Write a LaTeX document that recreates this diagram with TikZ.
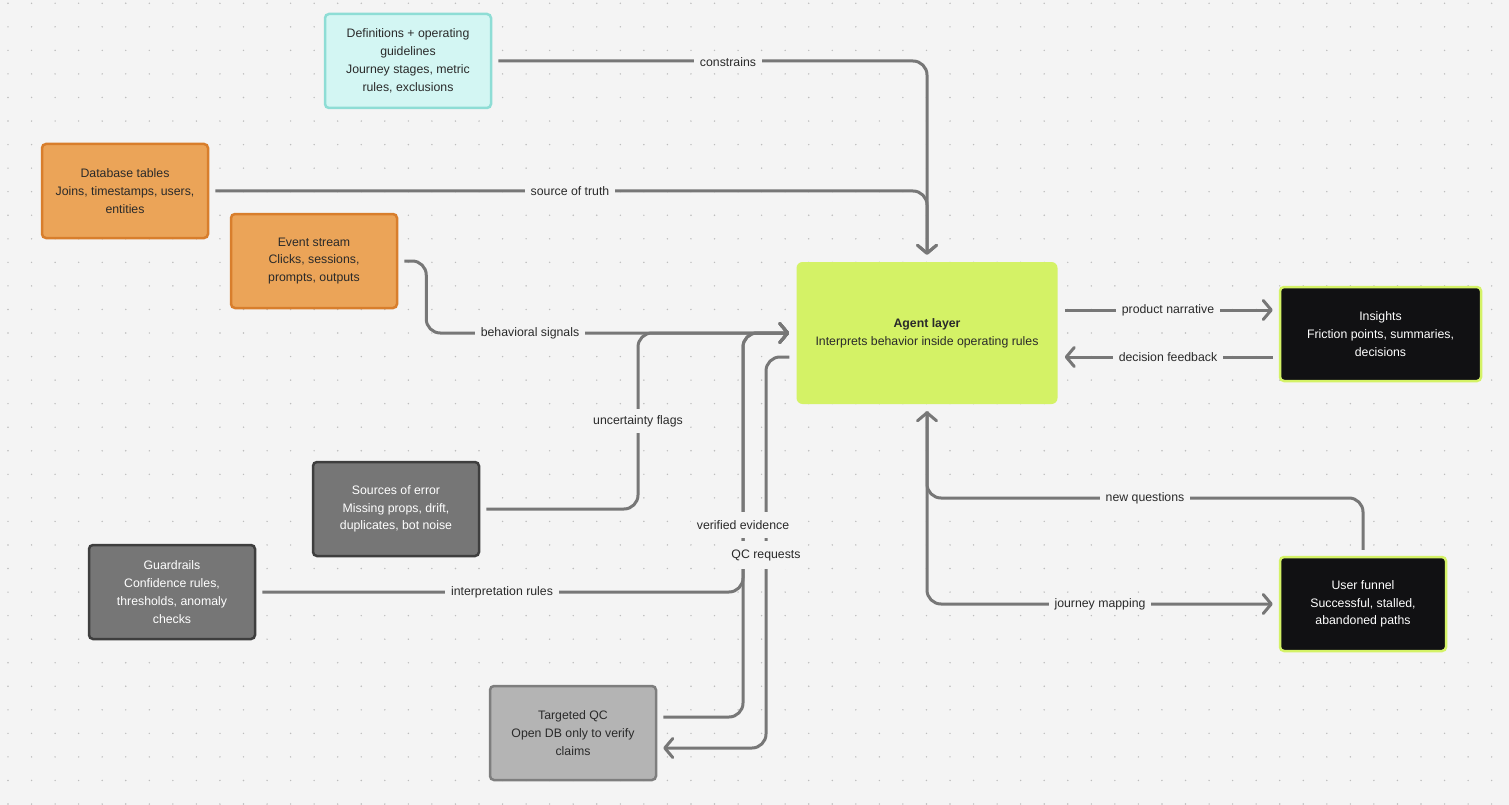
\documentclass[tikz,border=0pt]{standalone}
\usepackage{fontspec}
\setmainfont{Liberation Sans}
\usetikzlibrary{arrows.meta}
\definecolor{bg}{HTML}{F4F4F4}
\definecolor{dotc}{HTML}{BDBDBD}
\definecolor{linec}{HTML}{777777}
\definecolor{textc}{HTML}{2A2A2A}
\definecolor{cyanfill}{HTML}{D3F6F3}
\definecolor{cyanline}{HTML}{8EDDD5}
\definecolor{orfill}{HTML}{EBA458}
\definecolor{orline}{HTML}{D87E2C}
\definecolor{lime}{HTML}{D4F266}
\definecolor{blk}{HTML}{111113}
\definecolor{grfill}{HTML}{767676}
\definecolor{grline}{HTML}{3E3E3E}
\definecolor{ltfill}{HTML}{B4B4B4}
\definecolor{ltline}{HTML}{7E7E7E}
\begin{document}
\begin{tikzpicture}[x=1pt,y=-1pt,
  box/.style={rounded corners=4pt, line width=2.5pt, minimum width=166pt, minimum height=94pt,
    align=center, inner sep=4pt, font=\fontsize{12.3}{17.8}\selectfont, text=textc},
  cyanbox/.style={box, fill=cyanfill, draw=cyanline},
  orbox/.style={box, fill=orfill, draw=orline},
  darkbox/.style={box, fill=blk, draw=lime, text=white},
  graybox/.style={box, fill=grfill, draw=grline, text=white},
  ltbox/.style={box, fill=ltfill, draw=ltline},
  conn/.style={draw=linec, line width=3pt, rounded corners=14pt, shorten <=6pt, shorten >=6pt},
  arr/.style={-{Straight Barb[length=8pt,width=19pt,line cap=round,line join=round]}},
  lbl/.style={fill=bg, inner xsep=6pt, inner ysep=3pt, font=\fontsize{12.3}{14}\selectfont, text=textc}
]
\fill[bg] (0,0) rectangle (1509,805);
\useasboundingbox (0,0) rectangle (1509,805);
\foreach \i in {0,...,63}{
  \foreach \j in {0,...,34}{
    \fill[dotc] ({8+\i*23.55},{3.3+\j*23.55}) circle (0.8pt);
  }
}

% nodes
\node[cyanbox] (defs) at (408,61) {Definitions + operating\\guidelines\\Journey stages, metric\\rules, exclusions};
\node[orbox] (db) at (125,191) {Database tables\\Joins, timestamps, users,\\entities};
\node[orbox] (ev) at (314,261) {Event stream\\Clicks, sessions,\\prompts, outputs};
\node[box, fill=lime, draw=none, rounded corners=6pt, minimum width=261pt, minimum height=142pt] (agent) at (927,333)
  {\textbf{Agent layer}\\Interprets behavior inside operating rules};
\node[darkbox, minimum width=201pt] (ins) at (1380.5,334) {Insights\\Friction points, summaries,\\decisions};
\node[graybox] (err) at (396,509) {Sources of error\\Missing props, drift,\\duplicates, bot noise};
\node[graybox] (guard) at (172,592) {Guardrails\\Confidence rules,\\thresholds, anomaly\\checks};
\node[ltbox] (qc) at (573,733) {Targeted QC\\Open DB only to verify\\claims};
\node[darkbox] (fun) at (1363,604) {User funnel\\Successful, stalled,\\abandoned paths};

% connectors
\draw[conn,arr] (defs.east) -| (agent.north);
\draw[conn,arr] (db.east) -| (agent.north);
\draw[conn,arr] (ev.east) -- ++(28,0) |- (agent.west);
\draw[conn,arr] (err.east) -| (638,333) -- (agent.west);
\draw[conn,arr] ([yshift=16pt]qc.east) -| (743,333) -- (agent.west);
\draw[conn,arr] (guard.east) -| (743,333) -- (agent.west);
\draw[conn,arr] ([yshift=-24pt]agent.west) -| (766,748) -- ([yshift=-15pt]qc.east);
\draw[conn,arr] ([yshift=23pt]agent.east) -- ([yshift=23pt]agent.east -| ins.west);
\draw[conn,arr] ([yshift=-23pt]ins.west) -- ([yshift=-23pt]ins.west -| agent.east);
\draw[conn,arr] (fun.north) |- (927,498) -- (agent.south);
\draw[conn,arr] (agent.south) |- (fun.west);

% labels
\node[lbl] (l1) at (728,62) {constrains};
\node[lbl] (l2) at (570,191) {source of truth};
\node[lbl] (l3) at (530,333) {behavioral signals};
\node[lbl, inner ysep=6pt] (l4) at (638,421) {uncertainty flags};
\node[lbl, inner ysep=8pt] (l5) at (743,525) {verified evidence};
\node[lbl, inner ysep=8pt] (l6) at (766,555) {QC requests};
\node[lbl] (l7) at (502,592) {interpretation rules};
\node[lbl] (l8) at (1168,310) {product narrative};
\node[lbl] (l9) at (1168,357) {decision feedback};
\node[lbl] (l10) at (1145,498) {new questions};
\node[lbl] (l11) at (1100,604) {journey mapping};
\end{tikzpicture}
\end{document}
